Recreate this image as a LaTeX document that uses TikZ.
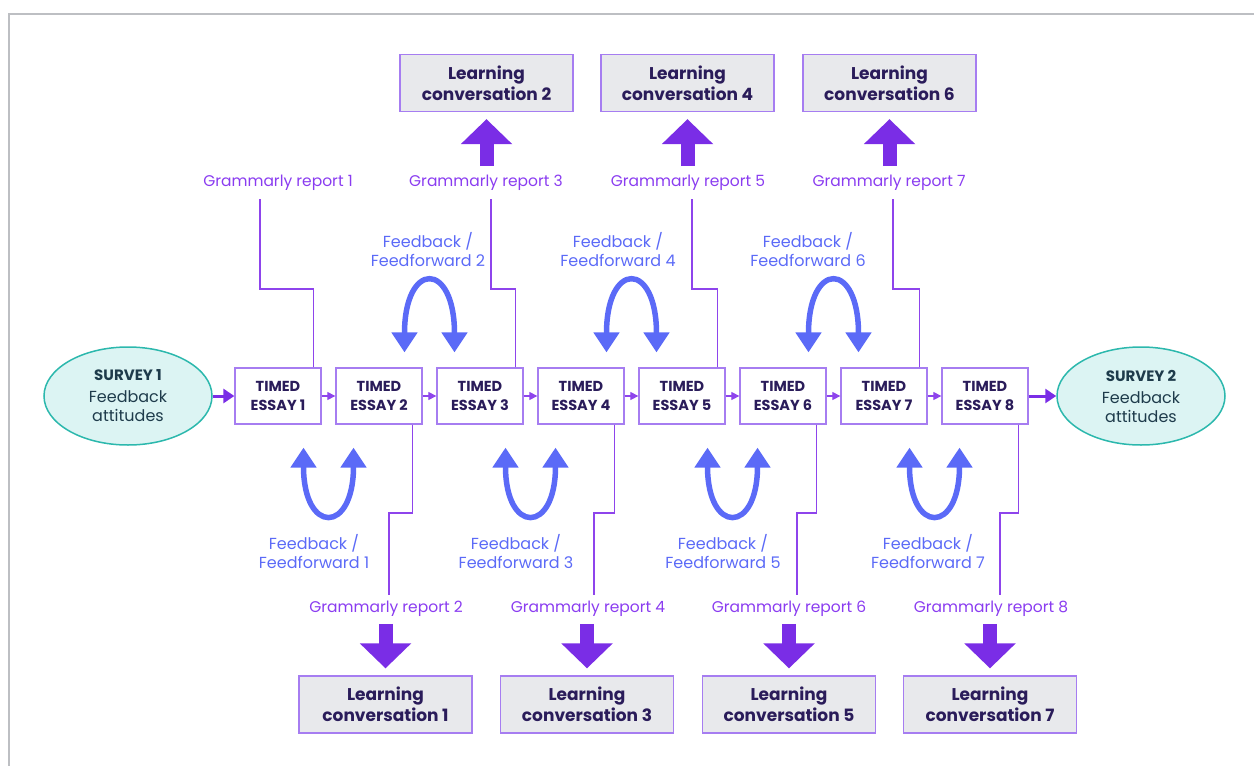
\documentclass[tikz,border=0pt]{standalone}
\usepackage{fontspec}
\setmainfont{Poppins}
\usetikzlibrary{arrows.meta,shapes.geometric,calc}

\definecolor{frameline}{HTML}{BDBFC3}
\definecolor{boxline}{HTML}{A67DF1}
\definecolor{linkline}{HTML}{8E44EC}
\definecolor{gpurple}{HTML}{8A3CF0}
\definecolor{bigpurple}{HTML}{7A2DE6}
\definecolor{fblue}{HTML}{5B6AF7}
\definecolor{ink}{HTML}{2A1C5A}
\definecolor{tealline}{HTML}{2CB8AD}
\definecolor{tealfill}{HTML}{DCF4F3}
\definecolor{surveyink}{HTML}{1E3B4B}
\definecolor{lcfill}{HTML}{E8E9EC}

\begin{document}
\begin{tikzpicture}[x=1pt,y=-1pt,>=Latex,
  essay/.style={draw=boxline,line width=1.3pt,minimum width=86pt,minimum height=56pt,
    align=center,text=ink,inner sep=0pt,font=\bfseries\fontsize{14.5}{19}\selectfont},
  lconv/.style={draw=boxline,fill=lcfill,line width=1.3pt,minimum width=173pt,minimum height=57pt,
    align=center,text=ink,inner sep=0pt,font=\bfseries\fontsize{17}{21}\selectfont},
  survey/.style={ellipse,draw=tealline,fill=tealfill,line width=1.5pt,minimum width=168pt,
    minimum height=98pt,inner sep=0pt,align=center,text=surveyink,font=\fontsize{16}{19}\selectfont},
  greport/.style={text=gpurple,inner sep=2pt,font=\fontsize{15.5}{19}\selectfont},
  fflabel/.style={text=fblue,align=center,inner sep=0pt,font=\fontsize{16}{19}\selectfont},
  link/.style={draw=linkline,line width=1.2pt},
  flow/.style={draw=linkline,line width=1.2pt,-{Triangle[width=8pt,length=8pt]}},
  bigflow/.style={draw=bigpurple,line width=3pt,-{Triangle[width=14pt,length=11pt]}},
  bigarrow/.style={draw=bigpurple,line width=14pt,-{Triangle[width=50pt,length=25pt]}},
  fbloop/.style={draw=fblue,line width=5.5pt,{Triangle[width=25pt,length=20pt]}-{Triangle[width=25pt,length=20pt]}}]
  \useasboundingbox (0,0) rectangle (1254,766);
  \draw[frameline,line width=1.5pt] (9,766) -- (9,14) -- (1254,14);

  % essays and surveys
  \foreach \i in {1,...,8}
    \node[essay] (e\i) at ({177+101*\i},396) {TIMED\\ESSAY \i};
  \node[survey] (s1) at (128,396) {{\bfseries\fontsize{15}{19}\selectfont SURVEY 1}\\[3pt]Feedback\\attitudes};
  \node[survey] (s2) at (1141,396) {{\bfseries\fontsize{15}{19}\selectfont SURVEY 2}\\[3pt]Feedback\\attitudes};
  \draw[bigflow] (s1) -- (e1);
  \foreach \i [evaluate=\i as \j using int(\i+1)] in {1,...,7}
    \draw[flow] (e\i) -- (e\j);
  \draw[bigflow] (e8) -- (s2);

  % grammarly reports
  \foreach \i/\gx in {1/278,3/486,5/688,7/889}
    \node[greport] (g\i) at (\gx,183) {Grammarly report \i};
  \foreach \i/\gx in {2/386,4/588,6/789,8/991}
    \node[greport] (g\i) at (\gx,609) {Grammarly report \i};

  % learning conversations
  \node[lconv] (lc2) at (486.5,83) {Learning\\conversation 2};
  \node[lconv] (lc4) at (687.5,83) {Learning\\conversation 4};
  \node[lconv] (lc6) at (889.5,83) {Learning\\conversation 6};
  \node[lconv] (lc1) at (385.5,704.5) {Learning\\conversation 1};
  \node[lconv] (lc3) at (587,704.5) {Learning\\conversation 3};
  \node[lconv] (lc5) at (789,704.5) {Learning\\conversation 5};
  \node[lconv] (lc7) at (990,704.5) {Learning\\conversation 7};

  \foreach \g/\l in {3/2,5/4,7/6}
    \draw[bigarrow,shorten <=7pt,shorten >=7pt] (lc\l.south |- g\g.north) -- (lc\l.south);
  \foreach \g/\l in {2/1,4/3,6/5,8/7}
    \draw[bigarrow,shorten <=5pt,shorten >=7pt] (lc\l.north |- g\g.south) -- (lc\l.north);

  % report links
  \foreach \i/\ux in {1/260,3/491,5/692,7/893}{
    \coordinate (k\i) at (\ux,289);
    \draw[link,shorten >=6pt] ([xshift=-8pt]e\i.north east) |- (k\i) -- (k\i |- g\i.south);
  }
  \foreach \i/\dx in {2/389,4/594,6/797,8/1000}{
    \coordinate (k\i) at (\dx,513);
    \draw[link,shorten >=4pt] ([xshift=-10pt]e\i.south east) |- (k\i) -- (k\i |- g\i.north);
  }

  % feedback loops
  \foreach \i [evaluate=\i as \j using int(\i+1)] in {1,3,5,7}{
    \coordinate (b\i) at ($(e\i.south)!0.5!(e\j.south)$);
    \draw[fbloop] ([shift={(-25,23)}]b\i) .. controls ([shift={(-25,110)}]b\i)
      and ([shift={(25,110)}]b\i) .. ([shift={(25,23)}]b\i);
  }
  \foreach \i [evaluate=\i as \j using int(\i+1)] in {2,4,6}{
    \coordinate (t\i) at ($(e\i.north)!0.5!(e\j.north)$);
    \draw[fbloop] ([shift={(-25,-15)}]t\i) .. controls ([shift={(-25,-107)}]t\i)
      and ([shift={(25,-107)}]t\i) .. ([shift={(25,-15)}]t\i);
  }
  \foreach \i/\fx in {1/314,3/516,5/723,7/928}
    \node[fflabel] (f\i) at (\fx,552) {Feedback /\\Feedforward \i};
  \foreach \i/\fx in {2/428,4/618,6/808}
    \node[fflabel] (f\i) at (\fx,250) {Feedback /\\Feedforward \i};
\end{tikzpicture}
\end{document}
